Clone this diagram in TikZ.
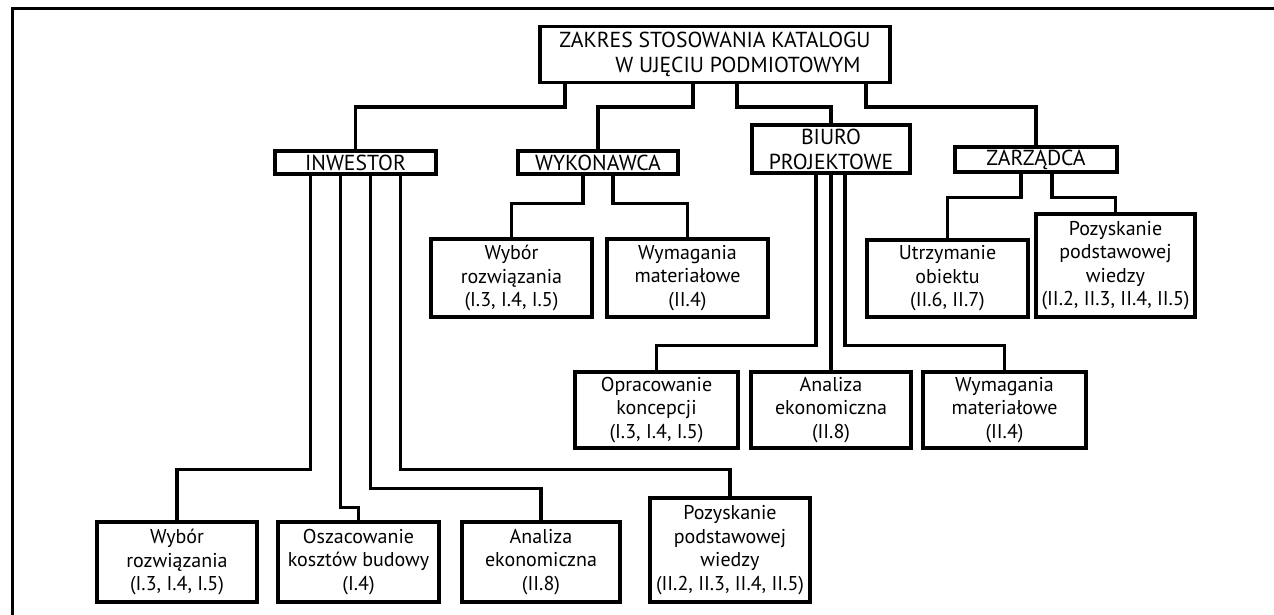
\documentclass[tikz,border=0pt]{standalone}
\usepackage{fontspec}
\setmainfont{PT Sans}
\begin{document}
\begin{tikzpicture}[x=1pt,y=-1pt,
    box/.style={draw=black,line width=3.1pt,inner sep=0pt,align=center,
      minimum width=161pt,font=\fontsize{20}{23.5}\selectfont},
    caps/.style={font=\fontsize{21.7}{25}\selectfont},
    conn/.style={line width=3.1pt,line cap=rect}]
  \useasboundingbox (0,0) rectangle (1274,615);
  % ramka
  \draw[line width=3pt] (12,615) -- (12,9) -- (1274,9);

  % korzen
  \node[box,caps,minimum width=350pt,minimum height=56pt,align=right] (root) at (715,54.5)
    {ZAKRES STOSOWANIA KATALOGU\\W UJĘCIU PODMIOTOWYM\hspace*{10pt}};

  % podmioty
  \node[box,caps,minimum height=23pt] (inw) at (355.5,162.5) {INWESTOR};
  \node[box,caps,minimum width=160pt,minimum height=23pt] (wyk) at (598,162.5) {WYKONAWCA};
  \node[box,caps,minimum width=158pt,minimum height=48pt] (biuro) at (831,149) {BIURO\\PROJEKTOWE};
  \node[box,caps,minimum width=162pt,minimum height=25pt] (zarz) at (1036,159.5) {ZARZĄDCA};

  % wykonawca
  \node[box,minimum height=78pt] (wybW) at (511.5,278) {Wybór\\rozwiązania\\(I.3, I.4, I.5)};
  \node[box,minimum height=78pt] (wymW) at (687.5,278) {Wymagania\\materiałowe\\(II.4)};

  % zarzadca
  \node[box,minimum height=77pt] (utrz) at (947.5,278.5) {Utrzymanie\\obiektu\\(II.6, II.7)};
  \node[box,minimum width=159pt,minimum height=103pt] (pozZ) at (1115.5,265.5)
    {Pozyskanie\\podstawowej\\wiedzy\\(II.2, II.3, II.4, II.5)};

  % biuro projektowe
  \node[box,minimum width=163pt,minimum height=76pt] (oprac) at (656.5,410) {Opracowanie\\koncepcji\\(I.3, I.4, I.5)};
  \node[box,minimum width=160pt,minimum height=76pt] (anB) at (831,410) {Analiza\\ekonomiczna\\(II.8)};
  \node[box,minimum width=163pt,minimum height=76pt] (wymB) at (1004.5,410) {Wymagania\\materiałowe\\(II.4)};

  % inwestor
  \node[box,minimum width=160pt,minimum height=80pt] (wybI) at (177,562) {Wybór\\rozwiązania\\(I.3, I.4, I.5)};
  \node[box,minimum height=80pt] (osz) at (358.5,562) {Oszacowanie\\kosztów budowy\\(I.4)};
  \node[box,minimum width=158pt,minimum height=80pt] (anI) at (541,562) {Analiza\\ekonomiczna\\(II.8)};
  \node[box,minimum width=160pt,minimum height=104pt] (pozI) at (730,550)
    {Pozyskanie\\podstawowej\\wiedzy\\(II.2, II.3, II.4, II.5)};

  % polaczenia
  \draw[conn] ([xshift=-150pt]root.south) -- ++(0,23) -| (inw.north);
  \draw[conn] ([xshift=-22pt]root.south) -- ++(0,23) -| (wyk.north);
  \draw[conn] ([xshift=22pt]root.south) -- ++(0,23) -| (biuro.north);
  \draw[conn] ([xshift=151pt]root.south) -- ++(0,23) -| (zarz.north);

  \draw[conn] ([xshift=-15pt]wyk.south) -- ++(0,28) -| (wybW.north);
  \draw[conn] ([xshift=15pt]wyk.south) -- ++(0,28) -| (wymW.north);

  \draw[conn] ([xshift=-15pt]zarz.south) -- ++(0,24) -| (utrz.north);
  \draw[conn] ([xshift=16pt]zarz.south) -- ++(0,24) -| (pozZ.north);

  \draw[conn] ([xshift=-15pt]biuro.south) -- ++(0,171) -| (oprac.north);
  \draw[conn] (biuro.south) -- (anB.north);
  \draw[conn] ([xshift=14pt]biuro.south) -- ++(0,171) -| (wymB.north);

  \draw[conn] ([xshift=-45pt]inw.south) -- ++(0,294) -| (wybI.north);
  \draw[conn] ([xshift=-15pt]inw.south) -- ++(0,332) -| (osz.north);
  \draw[conn] ([xshift=15pt]inw.south) -- ++(0,313) -| (anI.north);
  \draw[conn] ([xshift=45pt]inw.south) -- ++(0,294) -| (pozI.north);
\end{tikzpicture}
\end{document}
